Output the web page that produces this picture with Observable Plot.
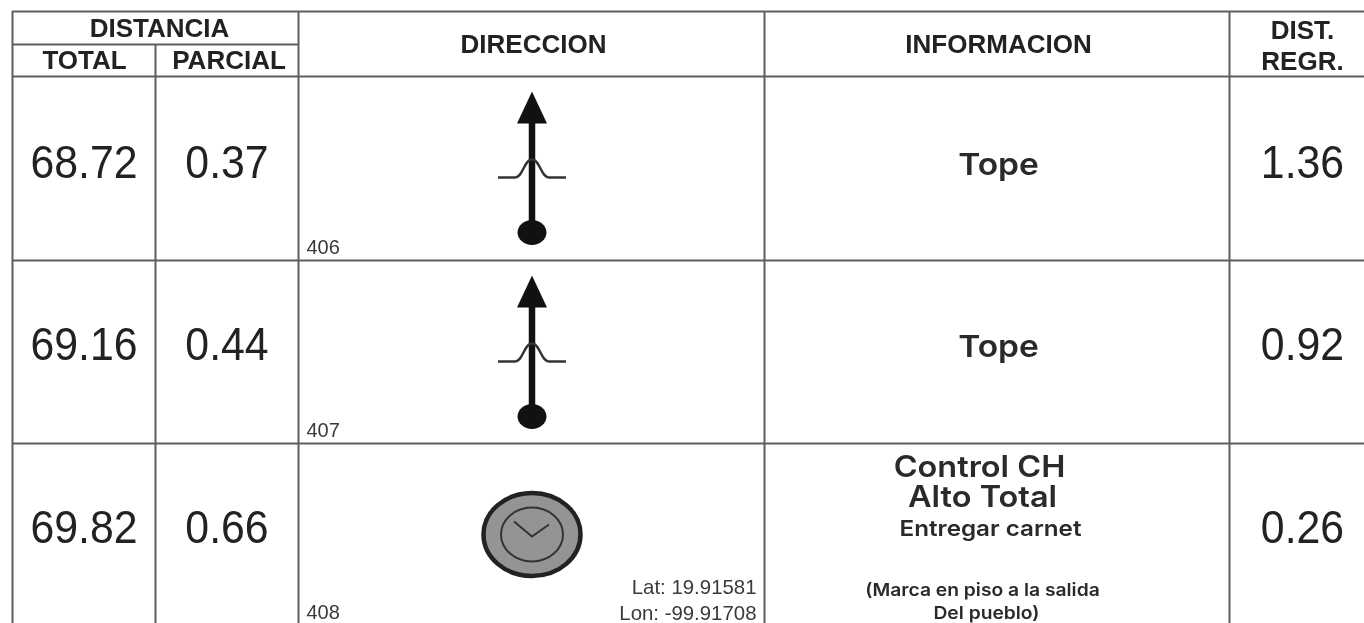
<!DOCTYPE html>
<html lang="es">
<head>
<meta charset="utf-8">
<style>html,body{margin:0;padding:0;background:#fff}svg{display:block;filter:blur(0.45px)}</style>
<script src="https://cdn.jsdelivr.net/npm/d3@7"></script>
<script src="https://cdn.jsdelivr.net/npm/@observablehq/plot@0.6"></script>
</head>
<body>
<div id="chart"></div>
<script>
// ---- values ----
const totals = [68.72, 69.16, 69.82];
const partials = [0.37, 0.44, 0.66];
const remaining = [1.36, 0.92, 0.26];
const stepIds = ["406", "407", "408"];
const topeLabels = ["Tope", "Tope"];
const controlTitle = ["Control CH", "Alto Total"];
const controlNote = "Entregar carnet";
const markNote = ["(Marca en piso a la salida", "Del pueblo)"];
const coords = ["Lat: 19.91581", "Lon: -99.91708"];
const headerDistance = "DISTANCIA";
const headerSub = ["TOTAL", "PARCIAL"];
const headerMain = ["DIRECCION", "INFORMACION"];
const headerDist = ["DIST.", "REGR."];

// ---- page grid (used only to place the cells) ----
const W = 1364, H = 623;
const X = {l: 12, a: 155, b: 298, c: 764, d: 1229, r: 1364};
const Y = {t: 11, m: 44, h: 76, r: [76, 260, 443]};
const CX = {total: 83.5, partial: 226.5, dir: 531.5, info: 997, dist: 1302};
const rowY = i => Y.r[i];
const numberOffset = [87, 85, 85];
const ink = "#222", grid = "#5f5f5f";
const sans = "Liberation Sans", info = "Inter";

// ---- glyph shapes ----
const ellipse = (rx, ry) => ({
  draw(c) {
    const k = 0.5523;
    c.moveTo(-rx, 0);
    c.bezierCurveTo(-rx, -ry * k, -rx * k, -ry, 0, -ry);
    c.bezierCurveTo(rx * k, -ry, rx, -ry * k, rx, 0);
    c.bezierCurveTo(rx, ry * k, rx * k, ry, 0, ry);
    c.bezierCurveTo(-rx * k, ry, -rx, ry * k, -rx, 0);
    c.closePath();
  }
});
const arrowHead = {draw(c) {c.moveTo(0, -17); c.lineTo(15, 15); c.lineTo(-15, 15); c.closePath();}};
const bump = {
  draw(c) {
    c.moveTo(-34, 0);
    c.lineTo(-17, 0);
    c.bezierCurveTo(-9, 0, -8, -18, 0, -18);
    c.bezierCurveTo(8, -18, 9, 0, 17, 0);
    c.lineTo(34, 0);
  }
};
const hands = {draw(c) {c.moveTo(-18, -13); c.lineTo(0, 2); c.lineTo(17, -10);}};

const txt = (rows, opts) => Plot.text(rows, {x: "x", y: "y", text: "t", lineAnchor: "middle", fill: ink, fontFamily: sans, ...opts});
const at = (x, y, t) => ({x, y, t});
const arrowRows = [0, 1];
const numbers = {fontSize: 46, className: "num"};
const infoText = {fontWeight: 600, fontFamily: info, fill: "#2a2a2a", className: "wide"};

const plot = Plot.plot({
  width: W, height: H,
  marginTop: 0, marginRight: 0, marginBottom: 0, marginLeft: 0,
  x: {domain: [0, W], range: [0, W], axis: null},
  y: {domain: [0, H], range: [0, H], axis: null},
  style: {background: "#fff"},
  marks: [
    // grid
    Plot.ruleY([Y.t, Y.h, Y.r[1], Y.r[2]], {x1: X.l, x2: X.r, stroke: grid, strokeWidth: 2}),
    Plot.ruleY([Y.m], {x1: X.l, x2: X.b, stroke: grid, strokeWidth: 2}),
    Plot.ruleX([X.l, X.b, X.c, X.d], {y1: Y.t, y2: H, stroke: grid, strokeWidth: 2}),
    Plot.ruleX([X.a], {y1: Y.m, y2: H, stroke: grid, strokeWidth: 2}),

    // header
    txt([at(159, 28, headerDistance), at(84, 60.5, headerSub[0]), at(228.5, 60.5, headerSub[1]),
         at(533, 44, headerMain[0]), at(998, 44, headerMain[1]),
         at(1302, 30, headerDist[0]), at(1302, 61, headerDist[1])],
        {fontSize: 26, fontWeight: 700}),

    // numbers
    txt(totals.map((v, i) => at(CX.total, rowY(i) + numberOffset[i], v.toFixed(2))), numbers),
    txt(partials.map((v, i) => at(CX.partial, rowY(i) + numberOffset[i], v.toFixed(2))), numbers),
    txt(remaining.map((v, i) => at(CX.dist, rowY(i) + numberOffset[i], v.toFixed(2))), numbers),

    // step ids
    txt(stepIds.map((s, i) => at(306, rowY(i) + 171 - i, s)), {fontSize: 20, textAnchor: "start", fill: "#3a3a3a"}),

    // arrows with speed bump
    Plot.ruleX(arrowRows, {x: () => CX.dir, y1: i => rowY(i) + 40, y2: i => rowY(i) + 155, stroke: "#111", strokeWidth: 6.5}),
    Plot.dot(arrowRows, {x: () => CX.dir, y: i => rowY(i) + 32, r: 1, symbol: () => arrowHead, fill: "#111", stroke: "none"}),
    Plot.dot(arrowRows, {x: () => CX.dir, y: i => rowY(i) + 156, r: 1, symbol: () => ellipse(14.5, 12.5), fill: "#111", stroke: "none"}),
    Plot.dot(arrowRows, {x: () => CX.dir, y: i => rowY(i) + 101, r: 1, symbol: () => bump, fill: "none", stroke: "#333", strokeWidth: 2.4}),

    // clock
    Plot.dot([0], {x: () => CX.dir, y: () => 534, r: 1, symbol: () => ellipse(48.5, 41.5), fill: "#949494", stroke: "#222", strokeWidth: 4.5}),
    Plot.dot([0], {x: () => CX.dir, y: () => 534, r: 1, symbol: () => ellipse(31, 27), fill: "#949494", stroke: "#333", strokeWidth: 2}),
    Plot.dot([0], {x: () => CX.dir, y: () => 534, r: 1, symbol: () => hands, fill: "none", stroke: "#333", strokeWidth: 2}),

    // coordinates
    txt(coords.map((s, i) => at(756, 587 + i * 25.5, s)), {fontSize: 20.4, textAnchor: "end", fill: "#3a3a3a"}),

    // information
    txt(topeLabels.map((s, i) => at(CX.info + 1, i ? 346.5 : 164.5, s)), {fontSize: 30.5, ...infoText}),
    txt(controlTitle.map((s, i) => at(i ? 982 : 979, 467 + i * 30, s)), {fontSize: 29.5, ...infoText}),
    txt([at(990, 528, controlNote)], {fontSize: 22, ...infoText}),
    txt(markNote.map((s, i) => at(i ? 986 : 982, 590 + i * 23, s)), {fontSize: 17.5, ...infoText})
  ]
});
document.getElementById("chart").append(plot);
// the reference's letterforms are a little narrower / wider than the installed faces
const stretch = (selector, factor) => d3.select(plot).selectAll(selector).each(function () {
  this.setAttribute("lengthAdjust", "spacingAndGlyphs");
  this.setAttribute("textLength", (this.getComputedTextLength() * factor).toFixed(1));
});
stretch(".num text", 0.93);
stretch(".wide text", 1.1);
</script>
</body>
</html>
